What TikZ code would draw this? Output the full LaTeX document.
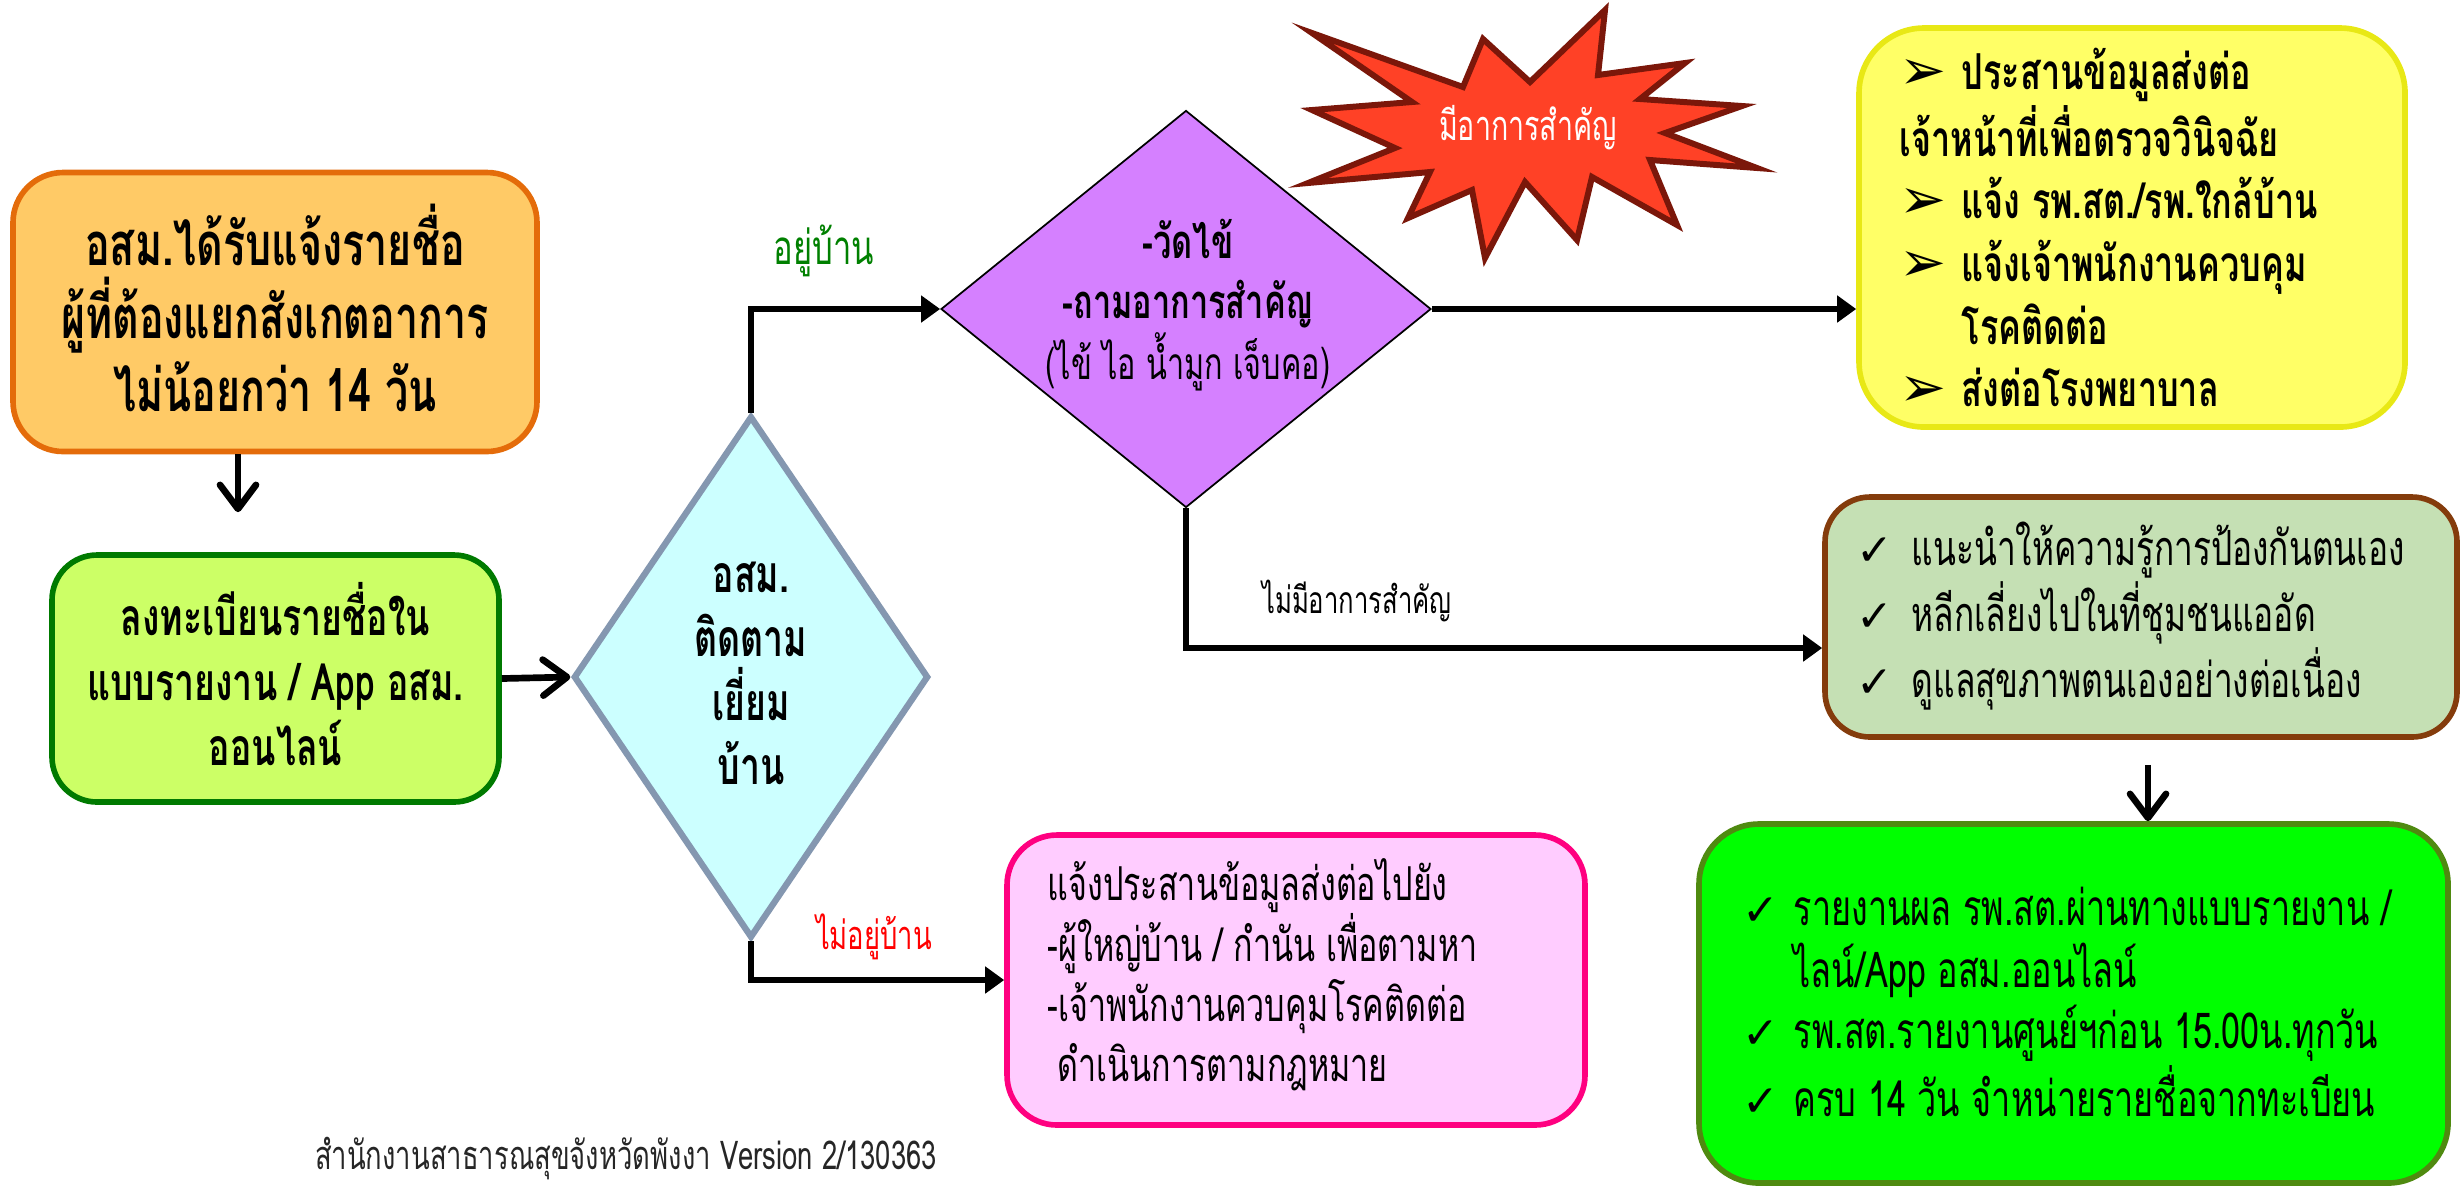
\documentclass[tikz,border=0pt]{standalone}
\usepackage{fontspec}
\usetikzlibrary{arrows.meta}
\usetikzlibrary{positioning}
\usetikzlibrary{calc}
\usetikzlibrary{shapes.geometric}

\newfontfamily\thai[Script=Thai,FakeStretch=0.69]{Loma}
\newfontfamily\symb{DejaVu Sans}

\definecolor{orangefill}{HTML}{FFCA66}
\definecolor{orangeline}{HTML}{E46C0A}
\definecolor{limefill}{HTML}{CCFF66}
\definecolor{limeline}{HTML}{007A00}
\definecolor{cyanfill}{HTML}{CCFFFF}
\definecolor{cyanline}{HTML}{8497B0}
\definecolor{purplefill}{HTML}{D580FF}
\definecolor{burstfill}{HTML}{FF4126}
\definecolor{burstline}{HTML}{7B170A}
\definecolor{yellowfill}{HTML}{FFFF66}
\definecolor{yellowline}{HTML}{E8E815}
\definecolor{sagefill}{HTML}{C5E0B4}
\definecolor{sageline}{HTML}{843C0C}
\definecolor{greenfill}{HTML}{00FF00}
\definecolor{greenline}{HTML}{4F8A10}
\definecolor{pinkfill}{HTML}{FFCCFF}
\definecolor{pinkline}{HTML}{FF0080}
\definecolor{yesgreen}{HTML}{008000}

\newcommand{\fbig}{\thai\bfseries\fontsize{17}{20.8}\selectfont}
\newcommand{\fmid}[2]{\thai\bfseries\fontsize{#1}{#2}\selectfont}
\newcommand{\fplain}[2]{\thai\fontsize{#1}{#2}\selectfont}
\newcommand{\flabel}[1]{\thai\fontsize{#1}{13}\selectfont}
\newcommand{\pointer}{\makebox[0.62cm][l]{\symb\fontsize{16}{16}\selectfont ➢}}
\newcommand{\tick}[1]{\makebox[#1][l]{\symb\fontsize{12.5}{12.5}\selectfont ✓}}

\tikzset{
  roundbox/.style n args={3}{draw=#1, fill=#2, line width=1.6pt, rounded corners=#3},
  tri/.style={line width=1.9pt, -{Triangle[length=1.9mm,width=2.6mm]}},
  barb/.style={line width=1.9pt, -{Straight Barb[length=2.4mm,width=3.6mm,round]}}
}

\begin{document}
\begin{tikzpicture}
  \useasboundingbox (0,0) rectangle (24.6,-11.88);

  % boxes
  \node[roundbox={orangeline}{orangefill}{0.5cm}, minimum width=5.24cm, minimum height=2.79cm] (notice) at (2.75,-3.12) {};
  \node[roundbox={limeline}{limefill}{0.45cm}, minimum width=4.47cm, minimum height=2.47cm] (register) at (2.755,-6.785) {};
  \node[roundbox={yellowline}{yellowfill}{0.65cm}, minimum width=5.46cm, minimum height=3.99cm] (actions) at (21.32,-2.275) {};
  \node[roundbox={sageline}{sagefill}{0.45cm}, minimum width=6.32cm, minimum height=2.40cm] (advice) at (21.41,-6.17) {};
  \node[roundbox={greenline}{greenfill}{0.6cm}, minimum width=7.49cm, minimum height=3.59cm] (report) at (20.735,-10.035) {};
  \node[roundbox={pinkline}{pinkfill}{0.5cm}, minimum width=5.78cm, minimum height=2.90cm] (notify) at (12.96,-9.80) {};

  % decisions
  \node[diamond, draw=cyanline, fill=cyanfill, line width=1.8pt, minimum width=3.55cm, minimum height=5.22cm, inner sep=0] (visit) at (7.51,-6.77) {};
  \node[diamond, draw=black, fill=purplefill, line width=0.5pt, minimum width=4.90cm, minimum height=3.97cm, inner sep=0] (check) at (11.86,-3.09) {};

  % burst
  \draw[burstline, fill=burstfill, line width=1.7pt] (13.12,-0.33) -- (14.63,-0.87) -- (14.83,-0.39) -- (15.30,-0.82) -- (16.05,-0.10) -- (15.98,-0.75) -- (16.85,-0.63) -- (16.40,-0.99) -- (17.42,-1.06) -- (16.65,-1.33) -- (17.57,-1.68) -- (16.50,-1.60) -- (16.77,-2.25) -- (15.92,-1.77) -- (15.77,-2.40) -- (15.25,-1.82) -- (14.85,-2.58) -- (14.72,-1.90) -- (14.08,-2.18) -- (14.30,-1.72) -- (13.08,-1.83) -- (13.95,-1.48) -- (13.12,-1.10) -- (14.12,-1.02) -- cycle;
  \node[font=\thai\fontsize{11.8}{14}\selectfont, text=white] (burst_txt) at (15.28,-1.28) {มีอาการสำคัญ};

  % texts
  \node[font=\fbig, align=center, inner sep=0] (notice_txt) at (2.75,-3.08) {อสม.ได้รับแจ้งรายชื่อ\\ผู้ที่ต้องแยกสังเกตอาการ\\ไม่น้อยกว่า 14 วัน};
  \node[font=\fmid{14.7}{18.5}, align=center, inner sep=0] (register_txt) at (2.755,-6.74) {ลงทะเบียนรายชื่อใน\\แบบรายงาน / App อสม.\\ออนไลน์};
  \node[font=\fmid{14.7}{18.2}, align=center, inner sep=0] (visit_txt) at (7.51,-6.73) {อสม.\\ติดตาม\\เยี่ยม\\บ้าน};
  \node[font=\fmid{13.4}{17.2}, align=center, inner sep=0] (check_txt) at (11.88,-3.05) {-วัดไข้\\-ถามอาการสำคัญ\\{\mdseries\fontsize{12.6}{17.2}\selectfont (ไข้ ไอ น้ำมูก เจ็บคอ)}};
  \node[font=\fmid{14.1}{17.8}, align=left, inner sep=0, anchor=west] (actions_txt) at (18.99,-2.275) {\pointer ประสานข้อมูลส่งต่อ\\เจ้าหน้าที่เพื่อตรวจวินิจฉัย\\\pointer แจ้ง รพ.สต./รพ.ใกล้บ้าน\\\pointer แจ้งเจ้าพนักงานควบคุม\\\hspace*{0.62cm}โรคติดต่อ\\\pointer ส่งต่อโรงพยาบาล};
  \node[font=\fplain{13.8}{17.5}, align=left, inner sep=0, anchor=west] (advice_txt) at (18.56,-6.16) {\tick{0.55cm}แนะนำให้ความรู้การป้องกันตนเอง\\\tick{0.55cm}หลีกเลี่ยงไปในที่ชุมชนแออัด\\\tick{0.55cm}ดูแลสุขภาพตนเองอย่างต่อเนื่อง};
  \node[font=\fplain{14.1}{17.5}, align=left, inner sep=0, anchor=west] (report_txt) at (17.42,-10.02) {\tick{0.51cm}รายงานผล รพ.สต.ผ่านทางแบบรายงาน /\\\hspace*{0.51cm}ไลน์/App อสม.ออนไลน์\\\tick{0.51cm}รพ.สต.รายงานศูนย์ฯก่อน 15.00น.ทุกวัน\\\tick{0.51cm}ครบ 14 วัน จำหน่ายรายชื่อจากทะเบียน};
  \node[font=\fplain{13.3}{17.2}, align=left, inner sep=0, anchor=west] (notify_txt) at (10.47,-9.75) {แจ้งประสานข้อมูลส่งต่อไปยัง\\-ผู้ใหญ่บ้าน / กำนัน เพื่อตามหา\\-เจ้าพนักงานควบคุมโรคติดต่อ\\\hspace*{0.1cm}ดำเนินการตามกฎหมาย};

  % labels
  \node[font=\flabel{13.5}, text=yesgreen] (home_lbl) at (8.24,-2.51) {อยู่บ้าน};
  \node[font=\flabel{10.6}] (nosym_lbl) at (13.57,-6.01) {ไม่มีอาการสำคัญ};
  \node[font=\flabel{11.3}, text=red] (away_lbl) at (8.74,-9.37) {ไม่อยู่บ้าน};
  \node[font=\flabel{11.3}, text=black!85] (footer) at (6.26,-11.58) {สำนักงานสาธารณสุขจังหวัดพังงา Version 2/130363};

  % arrows
  \coordinate (reg_x) at (2.38,0);
  \coordinate (rep_x) at (21.48,0);
  \draw[barb, shorten >=0.4cm] (notice.south -| reg_x) -- (register.north -| reg_x);
  \draw[barb] (register.east) -- (visit.west);
  \draw[tri] (visit.north) |- (check.west);
  \draw[tri] (check.east) -- (check.east -| actions.west);
  \draw[tri] (check.south) |- ([yshift=-0.31cm]advice.west);
  \draw[tri] (visit.south) |- (notify.west);
  \draw[barb, shorten <=0.25cm] (advice.south -| rep_x) -- (report.north -| rep_x);

\end{tikzpicture}
\end{document}
